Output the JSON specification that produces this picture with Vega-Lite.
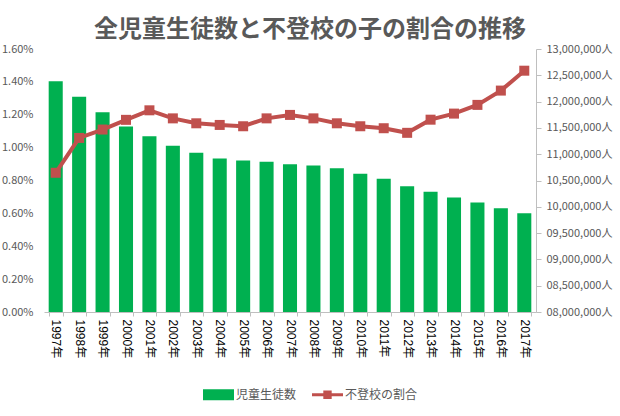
{
  "$schema": "https://vega.github.io/schema/vega-lite/v6.json",
  "width": 492,
  "height": 263,
  "autosize": {"type": "none"},
  "padding": {"left": 44, "top": 49, "right": 84, "bottom": 104},
  "background": "white",
  "config": {
    "view": {"stroke": null},
    "font": "Noto Sans CJK JP"
  },
  "title": {
    "text": "全児童生徒数と不登校の子の割合の推移",
    "font": "Noto Sans CJK JP",
    "fontSize": 24,
    "fontWeight": "bold",
    "color": "#595959",
    "anchor": "middle",
    "dx": 20,
    "offset": 1
  },
  "data": {
    "values": [
      {"year": "1997年", "students": 12385000, "ratio": 0.00847},
      {"year": "1998年", "students": 12094000, "ratio": 0.01059},
      {"year": "1999年", "students": 11796000, "ratio": 0.01110},
      {"year": "2000年", "students": 11525000, "ratio": 0.01169},
      {"year": "2001年", "students": 11341000, "ratio": 0.01227},
      {"year": "2002年", "students": 11159000, "ratio": 0.01178},
      {"year": "2003年", "students": 11026000, "ratio": 0.01148},
      {"year": "2004年", "students": 10918000, "ratio": 0.01138},
      {"year": "2005年", "students": 10880000, "ratio": 0.01130},
      {"year": "2006年", "students": 10855000, "ratio": 0.01178},
      {"year": "2007年", "students": 10810000, "ratio": 0.01199},
      {"year": "2008年", "students": 10785000, "ratio": 0.01178},
      {"year": "2009年", "students": 10733000, "ratio": 0.01148},
      {"year": "2010年", "students": 10627000, "ratio": 0.01130},
      {"year": "2011年", "students": 10532000, "ratio": 0.01118},
      {"year": "2012年", "students": 10392000, "ratio": 0.01090},
      {"year": "2013年", "students": 10286000, "ratio": 0.01170},
      {"year": "2014年", "students": 10177000, "ratio": 0.01207},
      {"year": "2015年", "students": 10082000, "ratio": 0.01260},
      {"year": "2016年", "students": 9974000, "ratio": 0.01347},
      {"year": "2017年", "students": 9879000, "ratio": 0.01468}
    ]
  },
  "encoding": {
    "x": {
      "field": "year",
      "type": "ordinal",
      "scale": {"paddingInner": 0.4, "paddingOuter": 0.2},
      "axis": {
        "title": null,
        "labelAngle": 90,
        "labelFont": "Liberation Sans, Noto Sans CJK JP",
        "labelFontSize": 12,
        "labelColor": "#000000",
        "labelPadding": 3,
        "tickBand": "extent",
        "tickSize": 4,
        "tickColor": "#bfbfbf",
        "domainColor": "#bfbfbf",
        "grid": false
      }
    }
  },
  "layer": [
    {
      "mark": {"type": "bar"},
      "encoding": {
        "y": {
          "field": "students",
          "type": "quantitative",
          "scale": {"domain": [8000000, 13000000], "zero": false, "nice": false},
          "axis": {
            "orient": "right",
            "title": null,
            "values": [8000000, 8500000, 9000000, 9500000, 10000000, 10500000, 11000000, 11500000, 12000000, 12500000, 13000000],
            "labelExpr": "format(datum.value, '010,') + '人'",
            "labelFontSize": 11,
            "labelColor": "#595959",
            "labelPadding": 5,
            "tickSize": 5,
            "tickColor": "#bfbfbf",
            "domainColor": "#bfbfbf",
            "grid": false
          }
        },
        "y2": {"datum": 8000000},
        "color": {
          "datum": "児童生徒数",
          "scale": {"domain": ["児童生徒数", "不登校の割合"], "range": ["#00b050", "#c0504d"]},
          "legend": {
            "title": null,
            "orient": "none",
            "direction": "horizontal",
            "legendX": 159,
            "legendY": 330,
            "symbolSize": 961,
            "labelFontSize": 12,
            "labelColor": "#595959",
            "labelOffset": 2,
            "columnPadding": 15,
            "symbolStrokeWidth": 0,
            "encode": {
              "symbols": {
                "update": {
                  "shape": {"signal": "datum.value === '児童生徒数' ? 'M-1,-0.355H1V0.355H-1Z' : 'M-1,-0.1H1V0.1H-1Z M-0.27,-0.27H0.27V0.27H-0.27Z'"},
                  "fill": {"signal": "datum.value === '児童生徒数' ? '#00b050' : '#c0504d'"},
                  "strokeWidth": {"value": 0}
                }
              }
            }
          }
        }
      }
    },
    {
      "mark": {
        "type": "line",
        "strokeWidth": 4,
        "point": {"shape": "square", "size": 100, "filled": true, "opacity": 1}
      },
      "encoding": {
        "y": {
          "field": "ratio",
          "type": "quantitative",
          "scale": {"domain": [0, 0.016], "nice": false},
          "axis": {
            "orient": "left",
            "title": null,
            "values": [0, 0.002, 0.004, 0.006, 0.008, 0.01, 0.012, 0.014, 0.016],
            "format": ".2%",
            "labelFontSize": 11,
            "labelColor": "#595959",
            "labelPadding": 11,
            "ticks": false,
            "domain": false,
            "grid": false
          }
        },
        "color": {"datum": "不登校の割合"}
      }
    }
  ],
  "resolve": {"scale": {"y": "independent"}}
}
